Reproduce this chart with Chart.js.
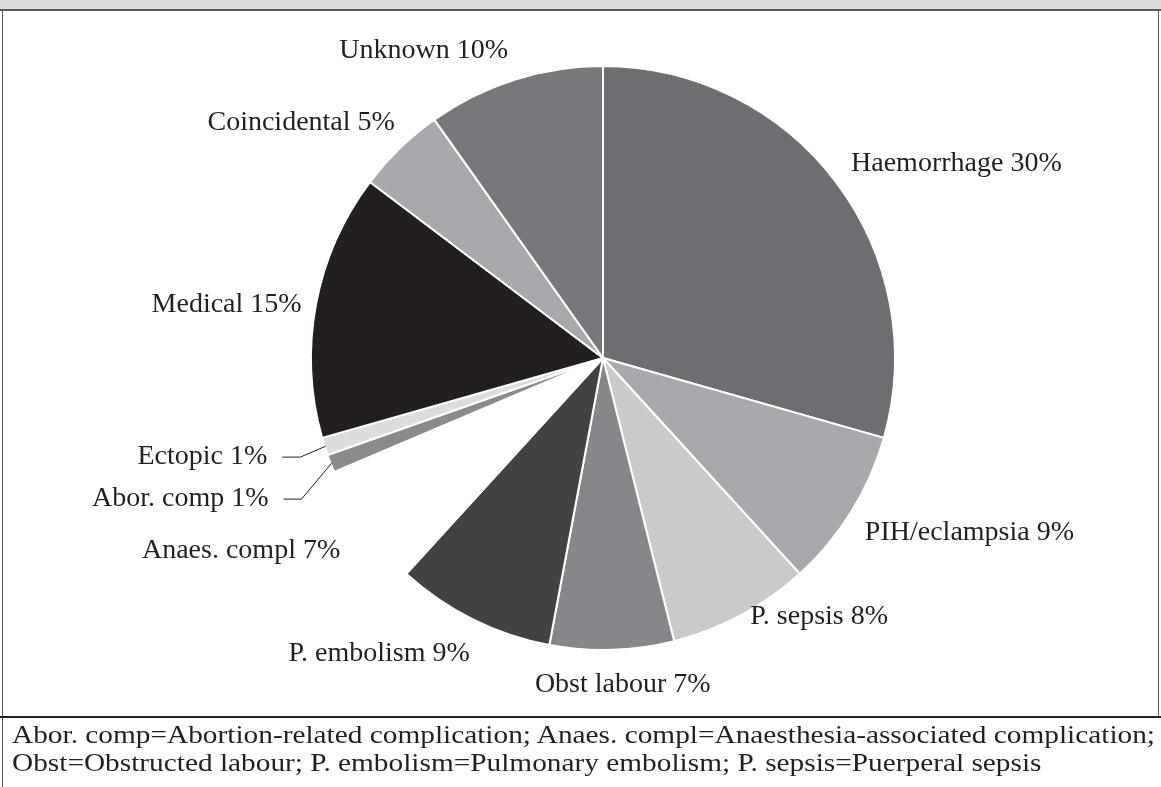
<!DOCTYPE html>
<html lang="en">
<head>
    <meta charset="UTF-8">
    <title>Causes of maternal death</title>
    <script src="https://cdn.jsdelivr.net/npm/chart.js"></script>
    <style>
        body {
            margin: 0;
            width: 1161px;
            height: 787px;
            position: relative;
            overflow: hidden;
            background: #ffffff;
            font-family: "Liberation Serif", "Times New Roman", serif;
            color: #231f20;
        }

        .top-band {
            position: absolute;
            left: 0; top: 0;
            width: 1161px; height: 9px;
            background: #dcddde;
            border-bottom: 2px solid #58595b;
        }

        .side-left {
            position: absolute;
            left: 2px; top: 10px;
            width: 1px; height: 777px;
            background: #58595b;
        }

        .side-right {
            position: absolute;
            left: 1158px; top: 10px;
            width: 1px; height: 707px;
            background: #58595b;
        }

        .footer-rule {
            position: absolute;
            left: 0; top: 716px;
            width: 1161px; height: 2px;
            background: #231f20;
        }

        .footer {
            position: absolute;
            left: 12px; top: 721px;
            font-size: 25px;
            line-height: 28px;
            white-space: nowrap;
            transform-origin: 0 0;
        }

        .chart-box {
            position: absolute;
            left: 0; top: 0;
            width: 1161px; height: 787px;
        }
    </style>
</head>
<body>

    <div class="top-band"></div>
    <div class="side-left"></div>
    <div class="side-right"></div>
    <div class="footer-rule"></div>

    <div class="chart-box">
        <canvas id="causesChart" width="1161" height="787"></canvas>
    </div>

    <div class="footer" id="footer">
        <span id="footLine1">Abor. comp=Abortion-related complication; Anaes. compl=Anaesthesia-associated complication;</span><br>
        <span>Obst=Obstructed labour; P. embolism=Pulmonary embolism; P. sepsis=Puerperal sepsis</span>
    </div>

    <script>
        // causes, clockwise from 12 o'clock
        const causes = [
            'Haemorrhage', 'PIH/eclampsia', 'P. sepsis', 'Obst labour', 'P. embolism',
            'Anaes. compl', 'Abor. comp', 'Ectopic', 'Medical', 'Coincidental', 'Unknown'
        ];
        const percents = [30, 9, 8, 7, 9, 7, 1, 1, 15, 5, 10];

        // slice fills (Anaes. compl is left blank in the original)
        const sliceColors = [
            '#6d6e71', '#a7a9ac', '#c9cacc', '#86878a', '#414244',
            '#ffffff', '#8a8b8e', '#dcddde', '#231f20', '#a7a9ac', '#77787b'
        ];

        // label placement: [gap beyond rim in px, angle nudge in degrees]
        const labelPlacement = [
            [23, -1], [23, 2], [6, -1.4], [35, -1.7], [32, -2.2],
            [34, -1], [71, -1.7], [58, 1.2], [14, -0.6], [22, 2.6], [30, 0.5]
        ];
        // slices whose label is joined to the slice by a leader line
        const withLeader = ['Abor. comp', 'Ectopic'];

        const labelFont = '28px "Liberation Serif", "Times New Roman", serif';

        // the footnote font in the original is wider; stretch it to the same width
        const footLine = document.getElementById('footLine1');
        const footScale = 1143 / footLine.getBoundingClientRect().width;
        document.getElementById('footer').style.transform = 'scaleX(' + footScale + ')';

        const outsideLabels = {
            id: 'outsideLabels',
            afterDatasetsDraw(chart) {
                const ctx = chart.ctx;
                const arcs = chart.getDatasetMeta(0).data;
                ctx.save();
                ctx.font = labelFont;
                ctx.fillStyle = '#231f20';
                ctx.strokeStyle = '#231f20';
                ctx.lineWidth = 1;
                ctx.textBaseline = 'middle';

                arcs.forEach((arc, i) => {
                    const p = arc.getProps(['x', 'y', 'startAngle', 'endAngle', 'outerRadius'], true);
                    const mid = (p.startAngle + p.endAngle) / 2;
                    const [gap, nudge] = labelPlacement[i];
                    const a = mid + nudge * Math.PI / 180;
                    const r = p.outerRadius + gap;
                    const lx = p.x + Math.cos(a) * r;
                    const ly = p.y + Math.sin(a) * r;
                    const c = Math.cos(a);

                    ctx.textAlign = c > 0.2 ? 'left' : (c < -0.2 ? 'right' : 'center');
                    ctx.fillText(causes[i] + ' ' + percents[i] + '%', lx, ly);

                    if (withLeader.includes(causes[i])) {
                        const ex = p.x + Math.cos(mid) * (p.outerRadius - 1);
                        const ey = p.y + Math.sin(mid) * (p.outerRadius - 1);
                        ctx.beginPath();
                        ctx.moveTo(lx + 15, ly);
                        ctx.lineTo(lx + 33, ly);
                        ctx.lineTo(ex, ey);
                        ctx.stroke();
                    }
                });
                ctx.restore();
            }
        };

        new Chart(document.getElementById('causesChart'), {
            type: 'pie',
            data: {
                labels: causes,
                datasets: [{
                    data: percents,
                    backgroundColor: sliceColors,
                    borderColor: '#ffffff',
                    borderWidth: 2,
                    radius: 292
                }]
            },
            options: {
                responsive: false,
                animation: false,
                layout: {
                    padding: { left: 45, right: 0, top: 0, bottom: 71 }
                },
                plugins: {
                    legend: { display: false },
                    tooltip: { enabled: false },
                    title: { display: false }
                }
            },
            plugins: [outsideLabels]
        });
    </script>

</body>
</html>
